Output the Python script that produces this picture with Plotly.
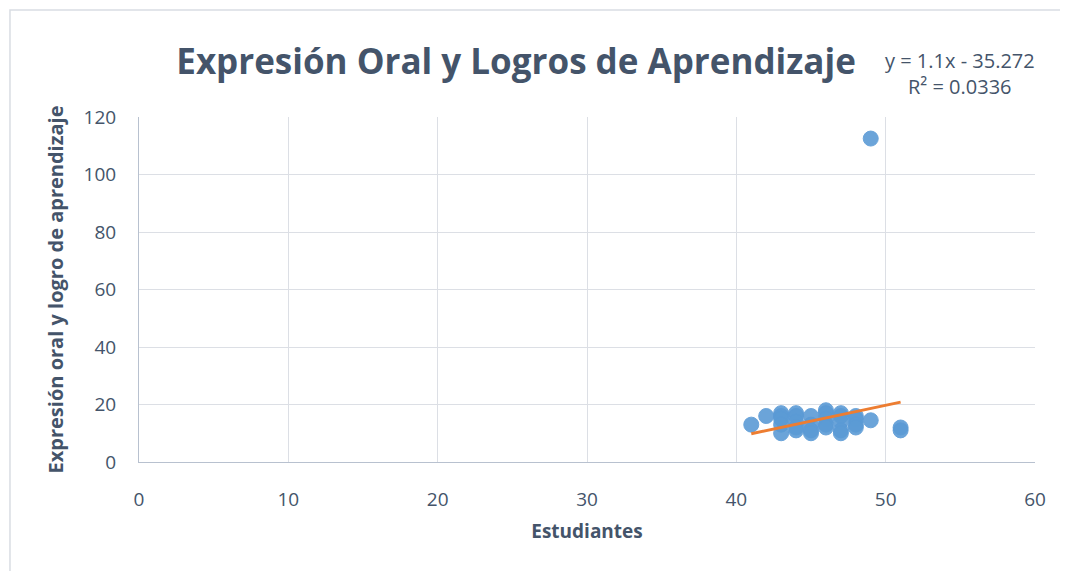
import plotly.graph_objects as go

# Data
x_vals = [41, 42,
          43, 43, 43, 43, 43,
          44, 44, 44, 44, 44,
          45, 45, 45, 45,
          46, 46, 46, 46, 46,
          47, 47, 47, 47, 47,
          48, 48, 48, 48,
          49, 49,
          51, 51]
y_vals = [13, 16,
          17, 16, 15, 13, 10,
          17, 16, 14, 12, 11,
          16, 13, 11, 10,
          18, 17, 15, 13, 12,
          17, 16, 14, 11, 10,
          16, 15, 13, 12,
          112.5, 14.5,
          12, 11]

trend_slope = 1.1
trend_intercept = -35.272
trend_label = "y = 1.1x - 35.272"
r2_label = "R² = 0.0336"

x_ticks = [0, 10, 20, 30, 40, 50, 60]
y_ticks = [0, 20, 40, 60, 80, 100, 120]

title_text = "Expresión Oral y Logros de Aprendizaje"
x_title = "Estudiantes"
y_title = "Expresión oral y logro de aprendizaje"

txt = "#44546A"
grid = "#DCDFE5"
axis_line = "#B8C1CF"

tx = [min(x_vals), max(x_vals)]
ty = [trend_slope * v + trend_intercept for v in tx]

fig = go.Figure()
fig.add_trace(go.Scatter(
    x=x_vals, y=y_vals, mode="markers",
    marker=dict(size=15, color="#5B9BD5", opacity=0.9,
                line=dict(width=1, color="#5A9AD6")),
    showlegend=False, hoverinfo="x+y"))
fig.add_trace(go.Scatter(
    x=tx, y=ty, mode="lines",
    line=dict(color="#ED7D31", width=3),
    showlegend=False, hoverinfo="skip"))

fig.update_layout(
    width=1068, height=571,
    paper_bgcolor="white", plot_bgcolor="white",
    margin=dict(l=131, r=41, t=109, b=117),
    font=dict(family="Open Sans, Liberation Sans, sans-serif", color=txt),
    title=dict(text="<b>" + title_text + "</b>", x=0.4757, xanchor="center",
               y=0.905, yanchor="middle",
               font=dict(size=35, color=txt, family="Open Sans, sans-serif")),
    xaxis=dict(range=[0, 60], tickvals=x_ticks, showgrid=True, gridcolor=grid,
               gridwidth=1, zeroline=False, showline=True, linecolor=axis_line,
               linewidth=1, ticks="", ticklabelstandoff=20,
               tickfont=dict(size=19, color=txt),
               title=dict(text="<b>" + x_title + "</b>", standoff=13,
                          font=dict(size=19, color=txt))),
    yaxis=dict(range=[0, 120], tickvals=y_ticks, showgrid=True, gridcolor=grid,
               gridwidth=1, zeroline=False, showline=True, linecolor=axis_line,
               linewidth=1, ticks="", ticklabelstandoff=18,
               tickfont=dict(size=19, color=txt),
               title=dict(text="<b>" + y_title + "</b>", standoff=14,
                          font=dict(size=20, color=txt))),
    shapes=[dict(type="rect", xref="paper", yref="paper",
                 x0=-0.144, x1=1.06, y0=-0.36, y1=1.31,
                 line=dict(color="#D9DDE3", width=1.5))],
    annotations=[
        dict(text=trend_label, xref="paper", yref="paper", x=0.916, y=1.165,
             xanchor="center", yanchor="middle", showarrow=False,
             font=dict(size=20, color=txt)),
        dict(text=r2_label, xref="paper", yref="paper", x=0.916, y=1.087,
             xanchor="center", yanchor="middle", showarrow=False,
             font=dict(size=20, color=txt)),
    ],
)

fig.write_html("out.html")
